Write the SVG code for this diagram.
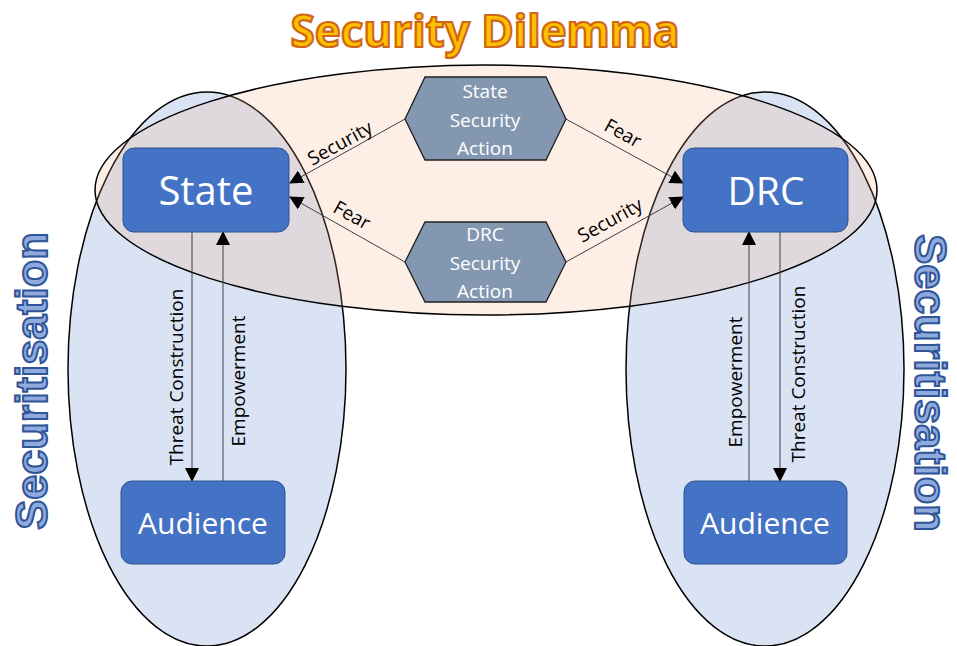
<svg xmlns="http://www.w3.org/2000/svg" width="957" height="646" viewBox="0 0 957 646">
<defs>
<style>
.node{fill:#4472C4;stroke:#2F528F;stroke-width:1}
.hex{fill:#8497B0;stroke:#1F1F1F;stroke-width:1.3}
.big{font-family:"Open Sans","Liberation Sans",sans-serif;fill:#fff;text-anchor:middle}
.sm{font-family:"Open Sans","Liberation Sans",sans-serif;font-size:19px;text-anchor:middle}
.hext{font-family:"Open Sans","Liberation Sans",sans-serif;font-size:19px;fill:#fff;text-anchor:middle}
.conn{stroke:#404040;stroke-width:1;fill:none}
.head{fill:#000}
.sec{font-family:"Liberation Sans",Arial,sans-serif;font-size:45px;font-weight:700;fill:#8FAADC;stroke:#2F5597;stroke-width:2;text-anchor:middle}
</style>
<marker id="arr" markerUnits="userSpaceOnUse" markerWidth="14" markerHeight="14" viewBox="0 0 14 14" refX="13" refY="7" orient="auto">
<path d="M0,0 L14,7 L0,14 Z" class="head"/>
</marker>
</defs>
<rect width="957" height="646" fill="#fff"/>

<g id="securitisation-left-area">
<ellipse cx="207" cy="369" rx="139" ry="277" fill="#DAE3F3" stroke="#000" stroke-width="1.5"/>
</g>
<g id="securitisation-right-area">
<ellipse cx="765" cy="369" rx="139" ry="277" fill="#DAE3F3" stroke="#000" stroke-width="1.5"/>
</g>
<g id="security-dilemma-area">
<ellipse cx="486" cy="190" rx="391" ry="125" fill="#F4B183" fill-opacity="0.2" stroke="#000" stroke-width="1.5"/>
</g>

<g id="title">
<text x="485" y="47" font-family="'Open Sans','Liberation Sans',sans-serif" font-size="44" font-weight="700" fill="#FFC000" stroke="#D0661A" stroke-width="2.2" text-anchor="middle">Security Dilemma</text>
</g>
<g id="label-securitisation-left">
<text class="sec" transform="translate(47,381) rotate(-90)">Securitisation</text>
</g>
<g id="label-securitisation-right">
<text class="sec" transform="translate(915,383) rotate(90)">Securitisation</text>
</g>

<g id="connectors">
<line class="conn" x1="405" y1="119" x2="290" y2="183" marker-end="url(#arr)"/>
<line class="conn" x1="405" y1="262" x2="290" y2="197" marker-end="url(#arr)"/>
<line class="conn" x1="566" y1="119" x2="683" y2="183" marker-end="url(#arr)"/>
<line class="conn" x1="566" y1="262" x2="683" y2="197" marker-end="url(#arr)"/>
<line class="conn" x1="192" y1="232" x2="192" y2="481" marker-end="url(#arr)"/>
<line class="conn" x1="223" y1="481" x2="223" y2="232" marker-end="url(#arr)"/>
<line class="conn" x1="749" y1="481" x2="749" y2="232" marker-end="url(#arr)"/>
<line class="conn" x1="780" y1="232" x2="780" y2="481" marker-end="url(#arr)"/>
<text class="sm" transform="translate(340,143) rotate(-29)" dy="0.35em">Security</text>
<text class="sm" transform="translate(352,215) rotate(29)" dy="0.35em">Fear</text>
<text class="sm" transform="translate(623,133) rotate(29)" dy="0.35em">Fear</text>
<text class="sm" transform="translate(610,220) rotate(-29)" dy="0.35em">Security</text>
<text class="sm" transform="translate(183,377) rotate(-90)">Threat Construction</text>
<text class="sm" transform="translate(245,381) rotate(-90)">Empowerment</text>
<text class="sm" transform="translate(742,382) rotate(-90)">Empowerment</text>
<text class="sm" transform="translate(805,374) rotate(-90)">Threat Construction</text>
</g>

<g id="state">
<rect class="node" x="123" y="148" width="166" height="84" rx="11"/>
<text class="big" x="206" y="205" font-size="40">State</text>
</g>
<g id="drc">
<rect class="node" x="683" y="148" width="165" height="84" rx="11"/>
<text class="big" x="766" y="205" font-size="39">DRC</text>
</g>
<g id="audience-left">
<rect class="node" x="121" y="481" width="164" height="83" rx="11"/>
<text class="big" x="203" y="534" font-size="30">Audience</text>
</g>
<g id="audience-right">
<rect class="node" x="684" y="481" width="163" height="83" rx="11"/>
<text class="big" x="765" y="534" font-size="30">Audience</text>
</g>
<g id="state-security-action">
<polygon class="hex" points="405,119 425,77 546,77 566,119 546,160 425,160"/>
<text class="hext" x="485" y="98">State</text>
<text class="hext" x="485" y="127">Security</text>
<text class="hext" x="485" y="155">Action</text>
</g>
<g id="drc-security-action">
<polygon class="hex" points="405,262 425,222 546,222 566,262 546,302 425,302"/>
<text class="hext" x="485" y="241">DRC</text>
<text class="hext" x="485" y="270">Security</text>
<text class="hext" x="485" y="298">Action</text>
</g>
</svg>
